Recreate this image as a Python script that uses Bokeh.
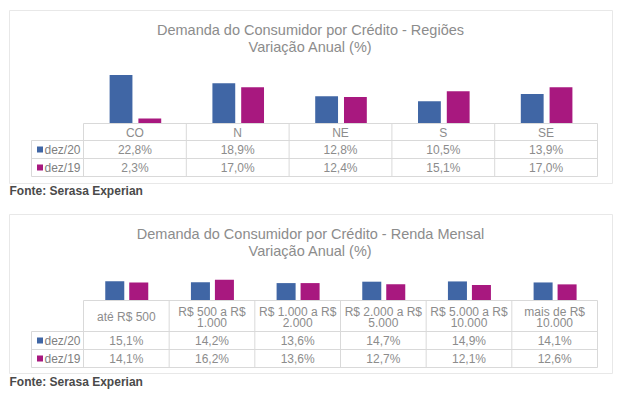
from bokeh.plotting import figure
from bokeh.layouts import column
from bokeh.models import Range1d
from bokeh.core.properties import value
from bokeh.embed import file_html
from bokeh.resources import INLINE

# ---------------- data ----------------
series_names = ["dez/20", "dez/19"]

title1 = ["Demanda do Consumidor por Crédito - Regiões", "Variação Anual (%)"]
regions = ["CO", "N", "NE", "S", "SE"]
reg_dez20 = [22.8, 18.9, 12.8, 10.5, 13.9]
reg_dez19 = [2.3, 17.0, 12.4, 15.1, 17.0]

title2 = ["Demanda do Consumidor por Crédito - Renda Mensal", "Variação Anual (%)"]
renda = ["até R$ 500", "R$ 500 a R$\n1.000", "R$ 1.000 a R$\n2.000",
         "R$ 2.000 a R$\n5.000", "R$ 5.000 a R$\n10.000", "mais de R$\n10.000"]
renda_dez20 = [15.1, 14.2, 13.6, 14.7, 14.9, 14.1]
renda_dez19 = [14.1, 16.2, 13.6, 12.7, 12.1, 12.6]

source_note = "Fonte: Serasa Experian"

# ---------------- style ----------------
BLUE = "#4066a5"
MAGENTA = "#a8187f"
GRID = "#d9d9d9"
FRAME = "#e8e8e8"
TXT = "#8c8c8c"
FONT = value("Liberation Sans")
W = 620
ORIGIN_X = 0


def fmt(v):
    return ("%.1f%%" % v).replace(".", ",")


def panel(title, cats, s1, s2, height, top_py, base_py, scale,
          box_top, box_bot, head_bot, row_bot1, row_bot2, title_y, fonte_y):
    n = len(cats)
    cl, cr = 83, 597
    cw = (cr - cl) / n

    def fx(px):
        return (px - cl) / cw - 0.5

    def fy(py):
        return (base_py - py) / scale

    p = figure(width=W, height=height, output_backend="svg", toolbar_location=None,
               x_axis_type=None, y_axis_type=None, min_border=0,
               x_range=Range1d(fx(ORIGIN_X), fx(ORIGIN_X + W)),
               y_range=Range1d(fy(top_py + height), fy(top_py)))
    p.outline_line_color = None
    p.background_fill_color = "white"
    p.border_fill_color = "white"

    # outer frame
    p.quad(left=[fx(9)], right=[fx(612)], top=[fy(box_top)], bottom=[fy(box_bot)],
           fill_color=None, line_color=FRAME, line_width=1)

    # bars
    idx = list(range(n))
    p.vbar(x=[i - 0.135 for i in idx], top=s1, bottom=0, width=0.222,
           fill_color=BLUE, line_color=None)
    p.vbar(x=[i + 0.145 for i in idx], top=s2, bottom=0, width=0.222,
           fill_color=MAGENTA, line_color=None)

    # table grid
    x0s, y0s, x1s, y1s = [], [], [], []
    x0s.append(fx(cl)); x1s.append(fx(cr)); y0s.append(fy(base_py)); y1s.append(fy(base_py))
    for yy in (head_bot, row_bot1, row_bot2):
        x0s.append(fx(31)); x1s.append(fx(cr)); y0s.append(fy(yy)); y1s.append(fy(yy))
    x0s.append(fx(31)); x1s.append(fx(31)); y0s.append(fy(head_bot)); y1s.append(fy(row_bot2))
    for k in range(n + 1):
        xx = cl + k * cw
        x0s.append(fx(xx)); x1s.append(fx(xx)); y0s.append(fy(base_py)); y1s.append(fy(row_bot2))
    p.segment(x0=x0s, y0=y0s, x1=x1s, y1=y1s, line_color=GRID, line_width=1)

    # header labels
    hc = (base_py + head_bot) / 2
    hx, hy, ht = [], [], []
    for i, c in enumerate(cats):
        lines = c.split("\n")
        if len(lines) == 1:
            hx.append(i); hy.append(fy(hc + 0.5)); ht.append(lines[0])
        else:
            hx += [i, i]; hy += [fy(hc - 4.5), fy(hc + 6.5)]; ht += lines
    p.text(x=hx, y=hy, text=ht, text_align="center", text_baseline="middle",
           text_font=FONT, text_font_size="12px", text_color=TXT)

    # values
    r1 = (head_bot + row_bot1) / 2
    r2 = (row_bot1 + row_bot2) / 2
    p.text(x=idx, y=[fy(r1)] * n, text=[fmt(v) for v in s1], text_align="center",
           text_baseline="middle", text_font=FONT, text_font_size="12px", text_color=TXT)
    p.text(x=idx, y=[fy(r2)] * n, text=[fmt(v) for v in s2], text_align="center",
           text_baseline="middle", text_font=FONT, text_font_size="12px", text_color=TXT)

    # legend keys
    p.scatter(x=[fx(39.5), fx(39.5)], y=[fy(r1), fy(r2)], marker="square", size=6,
              fill_color=[BLUE, MAGENTA], line_color=None)
    p.text(x=[fx(44), fx(44)], y=[fy(r1), fy(r2)], text=series_names, text_align="left",
           text_baseline="middle", text_font=FONT, text_font_size="12px", text_color="#7f7f7f")

    # title
    p.text(x=[fx(310), fx(310)], y=[fy(title_y), fy(title_y + 17)], text=title,
           text_align="center", text_baseline="middle", text_font=FONT,
           text_font_size="14.5px", text_color=TXT)

    # source
    p.text(x=[fx(9)], y=[fy(fonte_y)], text=[source_note], text_align="left",
           text_baseline="middle", text_font=FONT, text_font_size="12px",
           text_font_style="bold", text_color="#4a4a4a")
    return p


p1 = panel(title1, regions, reg_dez20, reg_dez19, height=206, top_py=0, base_py=123,
           scale=2.13, box_top=10, box_bot=183, head_bot=140, row_bot1=158, row_bot2=176,
           title_y=29, fonte_y=190)
p2 = panel(title2, renda, renda_dez20, renda_dez19, height=186, top_py=206, base_py=300,
           scale=1.28, box_top=214, box_bot=373, head_bot=331, row_bot1=349, row_bot2=367,
           title_y=233, fonte_y=381)

p = column(p1, p2, spacing=0)
open("out.html", "w").write(file_html(p, INLINE))
